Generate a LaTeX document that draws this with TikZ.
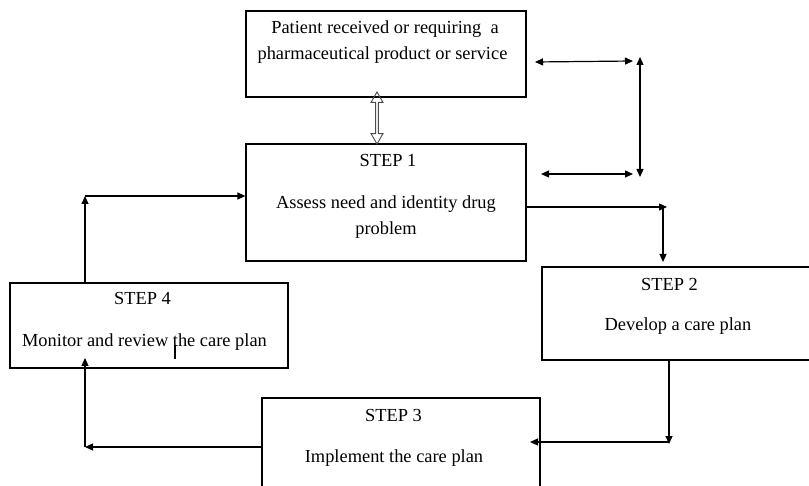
\documentclass[tikz,border=0pt]{standalone}
\usepackage{fontspec}
\setmainfont{Liberation Serif}
\usetikzlibrary{arrows.meta,shapes.arrows}

\begin{document}
\begin{tikzpicture}[x=1pt, y=-1pt,
		box/.style={draw, line width=1.2pt, inner sep=0pt},
		txt/.style={anchor=base, inner sep=0pt, font=\fontsize{18.4}{26}\selectfont},
		arr/.style={line width=1.2pt, -{Triangle[length=8pt,width=7pt]}},
		darr/.style={line width=1.2pt, {Triangle[length=8pt,width=7pt]}-{Triangle[length=8pt,width=7pt]}}]
		\useasboundingbox (0,0) rectangle (809,486);
		\node[box, minimum width=280pt, minimum height=86pt] (top) at (386,54) {};
		\node[box, minimum width=280pt, minimum height=117pt] (s1) at (386,202.5) {};
		\node[box, minimum width=273pt, minimum height=93pt] (s2) at (678.5,313.5) {};
		\node[box, minimum width=278pt, minimum height=97pt] (s3) at (401,446.5) {};
		\node[box, minimum width=278pt, minimum height=85pt] (s4) at (149,325.5) {};
		\node[txt] (top1) at (385,34) {Patient received or requiring\ \ a};
		\node[txt] (top2) at (382.5,60) {pharmaceutical product or service};
		\node[txt] (s1a) at (388,167) {STEP 1};
		\node[txt] (s1b) at (386,209) {Assess need and identity drug};
		\node[txt] (s1c) at (386,235) {problem};
		\node[txt] (s2a) at (669.5,291) {STEP 2};
		\node[txt] (s2b) at (678,331) {Develop a care plan};
		\node[txt] (s3a) at (393.5,421) {STEP 3};
		\node[txt] (s3b) at (394,462) {Implement the care plan};
		\node[txt] (s4a) at (142.5,305) {STEP 4};
		\node[txt] (s4b) at (144.5,347) {Monitor and review the care plan};
		\draw[line width=2pt] (175,345) -- (175,359);
		\node[draw=black!70, line width=0.9pt, double arrow, rotate=90, inner sep=0pt, minimum height=52pt, minimum width=12pt, double arrow head extend=1.5pt, double arrow tip angle=60] (link) at (377,118) {};
		\coordinate (h1a) at (535,62);
		\coordinate (h1b) at (633,61);
		\coordinate (v1a) at (640,57);
		\coordinate (v1b) at (640,177);
		\coordinate (h2a) at (541,174);
		\coordinate (h2b) at (633,174);
		\draw[darr] (h1a) -- (h1b);
		\draw[darr] (v1a) -- (v1b);
		\draw[darr] (h2a) -- (h2b);
		\coordinate (r1) at (667,207);
		\coordinate (d1) at (663,262);
		\draw[arr] (s1.east |- r1) -- (r1);
		\draw[arr] (d1 |- r1) -- (d1);
		\coordinate (d2) at (669,444);
		\coordinate (l2) at (530,442);
		\draw[arr] (s2.south -| d2) -- (d2);
		\draw[arr] (d2 |- l2) -- (l2);
		\coordinate (l3) at (85,447);
		\coordinate (u4) at (85,358);
		\draw[arr] (s3.west |- l3) -- (l3);
		\draw[arr] (l3) -- (u4);
		\coordinate (u5) at (85,196);
		\draw[arr] (s4.north -| u5) -- (u5);
		\draw[arr] (u5) -- (u5 -| s1.west);
	\end{tikzpicture}
\end{document}
